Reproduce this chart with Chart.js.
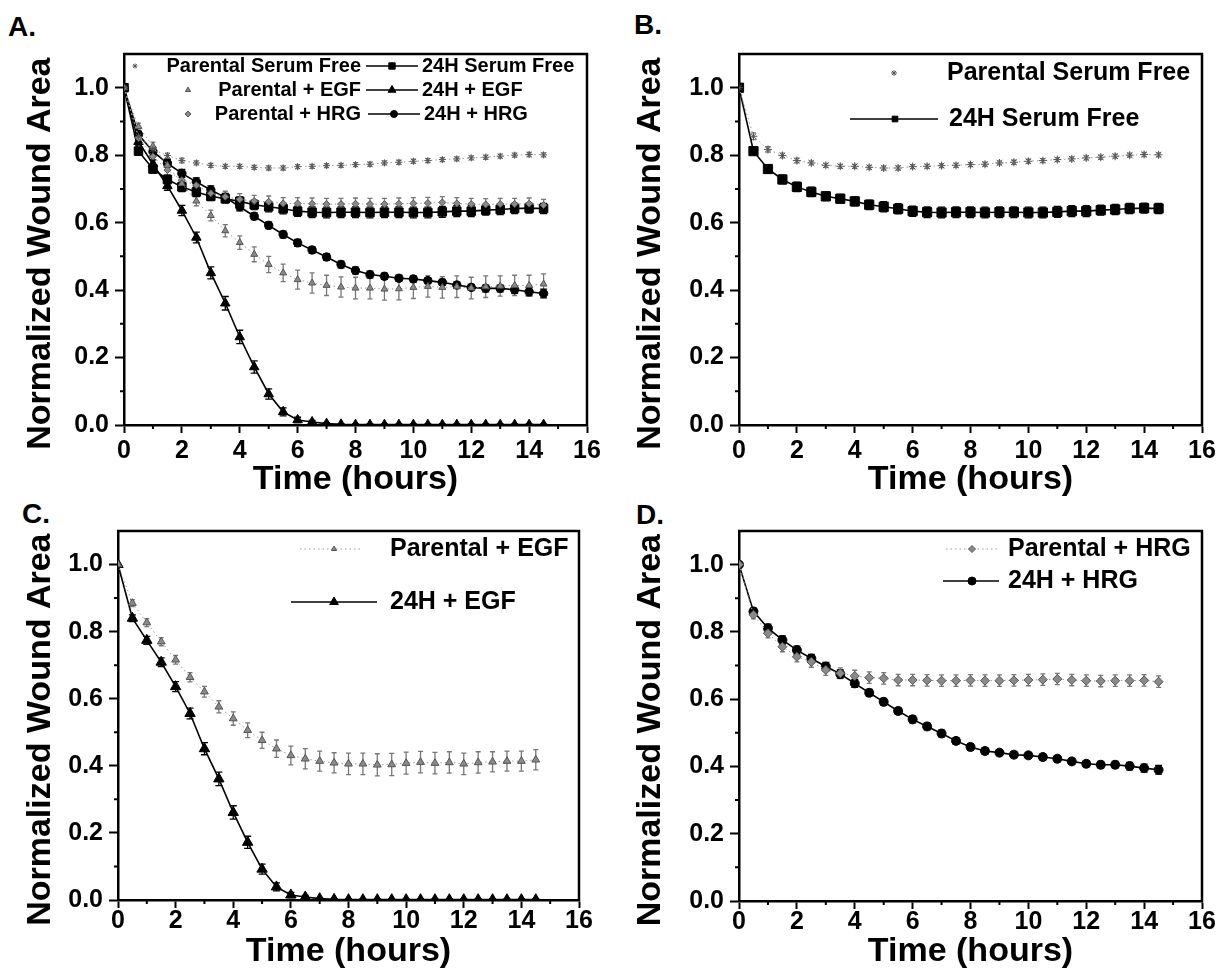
<!DOCTYPE html>
<html><head><meta charset="utf-8">
<script src="https://cdn.jsdelivr.net/npm/chart.js@4.4.0/dist/chart.umd.min.js"></script>
<style>
html,body{margin:0;padding:0;background:#fff;width:1220px;height:976px;overflow:hidden;position:relative;}
canvas{position:absolute;}
.plabel{position:absolute;font:bold 28px "Liberation Sans",Arial,sans-serif;line-height:28px;color:#000;}
</style></head><body>
<div class="plabel" style="left:8px;top:13px">A.</div>
<div class="plabel" style="left:634px;top:11px">B.</div>
<div class="plabel" style="left:22px;top:500px">C.</div>
<div class="plabel" style="left:636px;top:501px">D.</div>
<canvas id="cA" width="610" height="505" style="left:0px;top:0px"></canvas>
<canvas id="cB" width="610" height="505" style="left:610px;top:0px"></canvas>
<canvas id="cC" width="610" height="488" style="left:0px;top:488px"></canvas>
<canvas id="cD" width="610" height="488" style="left:610px;top:488px"></canvas>
<script>
// ---------- data ----------
const times = [0,0.5,1,1.5,2,2.5,3,3.5,4,4.5,5,5.5,6,6.5,7,7.5,8,8.5,9,9.5,10,10.5,11,11.5,12,12.5,13,13.5,14,14.5];
const xTickValues = [0,2,4,6,8,10,12,14,16];
const yTickValues = [0,0.2,0.4,0.6,0.8,1.0];
const xTitle = 'Time (hours)';
const yTitle = 'Normalized Wound Area';

const nameParentalSF = 'Parental Serum Free';
const name24hSF = '24H Serum Free';
const nameParentalEGF = 'Parental + EGF';
const name24hEGF = '24H + EGF';
const nameParentalHRG = 'Parental + HRG';
const name24hHRG = '24H + HRG';

const parentalSF = [1.000,0.856,0.817,0.799,0.784,0.777,0.770,0.767,0.767,0.764,0.762,0.762,0.766,0.767,0.769,0.770,0.772,0.773,0.777,0.779,0.782,0.784,0.787,0.789,0.792,0.794,0.797,0.800,0.802,0.801];
const errParentalSF = [0,0.010,0.008,0.007,0.007,0.006,0.006,0.006,0.006,0.006,0.006,0.006,0.006,0.006,0.006,0.006,0.006,0.006,0.006,0.006,0.006,0.006,0.006,0.006,0.006,0.006,0.006,0.006,0.006,0.006];
const h24SF = [1.000,0.812,0.759,0.728,0.706,0.691,0.678,0.671,0.663,0.653,0.647,0.641,0.634,0.631,0.630,0.631,0.631,0.630,0.631,0.631,0.630,0.630,0.632,0.634,0.634,0.637,0.639,0.642,0.643,0.642];
const errH24SF = [0,0.012,0.012,0.013,0.014,0.014,0.013,0.013,0.013,0.014,0.015,0.015,0.015,0.016,0.016,0.016,0.016,0.016,0.016,0.016,0.016,0.016,0.016,0.016,0.016,0.015,0.015,0.015,0.015,0.015];
const parentalEGF = [1.000,0.885,0.827,0.770,0.716,0.664,0.621,0.576,0.541,0.506,0.476,0.451,0.431,0.421,0.414,0.409,0.406,0.406,0.403,0.404,0.408,0.411,0.408,0.410,0.406,0.410,0.412,0.414,0.414,0.418];
const errParentalEGF = [0,0.010,0.012,0.012,0.013,0.014,0.016,0.018,0.020,0.022,0.024,0.026,0.028,0.030,0.030,0.030,0.032,0.032,0.033,0.033,0.033,0.032,0.032,0.032,0.032,0.032,0.030,0.030,0.030,0.030];
const h24EGF = [1.000,0.840,0.774,0.709,0.636,0.556,0.451,0.361,0.261,0.172,0.092,0.039,0.015,0.009,0.004,0.002,0.001,0.001,0.001,0.001,0.001,0.001,0.001,0.001,0.001,0.001,0.001,0.001,0.001,0.001];
const errH24EGF = [0,0.010,0.012,0.013,0.015,0.016,0.018,0.020,0.020,0.018,0.015,0.012,0.008,0.005,0.003,0.002,0.002,0.002,0.002,0.002,0.002,0.002,0.002,0.002,0.002,0.002,0.002,0.002,0.002,0.002];
const parentalHRG = [1.000,0.851,0.796,0.756,0.726,0.711,0.687,0.677,0.669,0.664,0.662,0.657,0.657,0.656,0.655,0.655,0.656,0.655,0.655,0.656,0.657,0.658,0.660,0.657,0.655,0.654,0.655,0.655,0.656,0.652];
const errParentalHRG = [0,0.012,0.014,0.015,0.015,0.016,0.016,0.016,0.017,0.017,0.017,0.017,0.017,0.017,0.017,0.017,0.017,0.017,0.017,0.017,0.017,0.017,0.017,0.017,0.017,0.017,0.017,0.017,0.017,0.017];
const h24HRG = [1.000,0.861,0.811,0.776,0.746,0.721,0.697,0.675,0.647,0.619,0.592,0.565,0.540,0.519,0.498,0.476,0.458,0.446,0.441,0.435,0.433,0.428,0.423,0.415,0.408,0.405,0.405,0.401,0.395,0.390];
const errH24HRG = [0,0.010,0.012,0.012,0.012,0.012,0.012,0.012,0.012,0.010,0.010,0.010,0.010,0.010,0.010,0.010,0.010,0.010,0.009,0.009,0.009,0.009,0.009,0.009,0.009,0.010,0.010,0.011,0.012,0.013];

// ---------- styles ----------
const FONT = "'Liberation Sans', Arial, Helvetica, sans-serif";
Chart.defaults.font.family = FONT;
Chart.defaults.color = '#000';

function pts(vals){ return times.map((t,i)=>({x:t, y:vals[i]})); }

function parentalDS(label, vals, errs, style, r){
  return {label, data: pts(vals), errors: errs, errorColor:'#777', capHalf:2.5,
    showLine:true, borderColor:'#9a9a9a', borderWidth:1, borderDash:[1.5,3],
    pointStyle: style, pointRadius:r, pointBackgroundColor:'#8a8a8a', pointBorderColor:'#555', pointBorderWidth:1,
    tension:0};
}
function h24DS(label, vals, errs, style, r){
  return {label, data: pts(vals), errors: errs, errorColor:'#000', capHalf:3.5,
    showLine:true, borderColor:'#000', borderWidth:1.6, borderDash:[],
    pointStyle: style, pointRadius:r, pointBackgroundColor:'#000', pointBorderColor:'#000', pointBorderWidth:1,
    tension:0};
}

// ---------- plugins ----------
const errorBars = {
  id:'errorBars',
  beforeDatasetsDraw(chart){
    const ctx = chart.ctx, ys = chart.scales.y;
    const ca = chart.chartArea;
    ctx.save();
    ctx.beginPath(); ctx.rect(ca.left, ca.top, ca.right-ca.left, ca.bottom-ca.top); ctx.clip();
    chart.data.datasets.forEach((ds, di)=>{
      if(!ds.errors) return;
      const meta = chart.getDatasetMeta(di);
      ctx.strokeStyle = ds.errorColor; ctx.lineWidth = 1.3;
      meta.data.forEach((p,i)=>{
        const e = ds.errors[i]; if(!e) return;
        const v = ds.data[i].y;
        const y1 = ys.getPixelForValue(v+e), y2 = ys.getPixelForValue(v-e), c = ds.capHalf;
        ctx.beginPath();
        ctx.moveTo(p.x, y1); ctx.lineTo(p.x, y2);
        ctx.moveTo(p.x-c, y1); ctx.lineTo(p.x+c, y1);
        ctx.moveTo(p.x-c, y2); ctx.lineTo(p.x+c, y2);
        ctx.stroke();
      });
    });
    ctx.restore();
  }
};

const frameAndMinor = {
  id:'frameAndMinor',
  afterDraw(chart){
    const ctx = chart.ctx, xs = chart.scales.x, ys = chart.scales.y;
    const {left,right,top,bottom} = chart.chartArea;
    ctx.save();
    ctx.strokeStyle = '#000'; ctx.lineWidth = 2.5;
    ctx.beginPath(); ctx.moveTo(left-1, top); ctx.lineTo(right, top); ctx.lineTo(right, bottom+1); ctx.stroke();
    ctx.lineWidth = 2;
    ctx.beginPath();
    for(let k=0;k<xTickValues.length-1;k++){
      const px = xs.getPixelForValue((xTickValues[k]+xTickValues[k+1])/2);
      ctx.moveTo(px, bottom); ctx.lineTo(px, bottom+4);
    }
    for(let k=0;k<yTickValues.length-1;k++){
      const py = ys.getPixelForValue((yTickValues[k]+yTickValues[k+1])/2);
      ctx.moveTo(left, py); ctx.lineTo(left-4, py);
    }
    ctx.stroke();
    ctx.restore();
  }
};

const panelLegend = {
  id:'panelLegend',
  afterDatasetsDraw(chart, args, opts){
    const ctx = chart.ctx;
    (opts.items||[]).forEach(it=>{
      const ds = chart.data.datasets[it.ds];
      ctx.save();
      if(it.line){
        ctx.strokeStyle = ds.borderColor; ctx.lineWidth = ds.borderWidth;
        ctx.setLineDash(ds.borderDash||[]);
        ctx.beginPath(); ctx.moveTo(it.line[0], it.y); ctx.lineTo(it.line[1], it.y); ctx.stroke();
        ctx.setLineDash([]);
      }
      ctx.fillStyle = ds.pointBackgroundColor; ctx.strokeStyle = ds.pointBorderColor; ctx.lineWidth = ds.pointBorderWidth;
      Chart.helpers.drawPoint(ctx, {pointStyle: ds.pointStyle, radius: it.r || ds.pointRadius, borderWidth: ds.pointBorderWidth, rotation:0}, it.x, it.y);
      ctx.fillStyle = '#000';
      ctx.font = 'bold ' + opts.size + 'px ' + FONT;
      ctx.textBaseline = 'middle';
      ctx.textAlign = it.align || 'left';
      ctx.fillText(ds.label, it.tx, it.y);
      ctx.restore();
    });
  }
};

function makePanel(id, datasets, area, legend){
  const cv = document.getElementById(id);
  const H = cv.height;
  return new Chart(cv, {
    type:'line',
    data:{datasets},
    plugins:[errorBars, frameAndMinor, panelLegend],
    options:{
      responsive:false, animation:false, devicePixelRatio:1,
      layout:{padding:{left:0, top:area.top, right:cv.width-area.right, bottom:0}},
      plugins:{legend:{display:false}, tooltip:{enabled:false}, panelLegend: legend},
      elements:{line:{tension:0}},
      scales:{
        x:{type:'linear', min:0, max:16,
          afterBuildTicks: s => { s.ticks = xTickValues.map(v=>({value:v})); },
          afterFit: s => { s.height = H - area.bottom; },
          ticks:{font:{size:25, weight:'bold'}, color:'#000', padding:area.xlPad, maxRotation:0, autoSkip:false, callback: v => String(v)},
          grid:{drawOnChartArea:false, drawTicks:true, tickLength:8, tickWidth:2, tickColor:'#000'},
          border:{display:true, color:'#000', width:2.5},
          title:{display:true, text:xTitle, color:'#000', font:{size:34, weight:'bold'}, padding:{top:0, bottom:area.xtPad}}
        },
        y:{type:'linear', min:0, max:1.1,
          afterBuildTicks: s => { s.ticks = yTickValues.map(v=>({value:v})); },
          afterFit: s => { s.width = area.left; },
          ticks:{font:{size:25, weight:'bold'}, color:'#000', padding:6, autoSkip:false, callback: v => Number(v).toFixed(1)},
          grid:{drawOnChartArea:false, drawTicks:true, tickLength:9, tickWidth:2, tickColor:'#000'},
          border:{display:true, color:'#000', width:2.5},
          title:{display:true, text:yTitle + '   ', color:'#000', font:{size:34, weight:'bold'}, padding:{top:area.ytPad, bottom:0}}
        }
      }
    }
  });
}

// Panel A: all six series
makePanel('cA', [
  parentalDS(nameParentalSF, parentalSF, errParentalSF, 'star', 3.5),
  parentalDS(nameParentalEGF, parentalEGF, errParentalEGF, 'triangle', 4),
  parentalDS(nameParentalHRG, parentalHRG, errParentalHRG, 'rectRot', 3.5),
  h24DS(name24hSF, h24SF, errH24SF, 'rect', 6),
  h24DS(name24hEGF, h24EGF, errH24EGF, 'triangle', 5.5),
  h24DS(name24hHRG, h24HRG, errH24HRG, 'circle', 4.2)
], {left:124, right:587, top:54, bottom:425, xtPad:5, ytPad:20, xlPad:3},
{size:20, items:[
  {ds:0, x:135, y:66, tx:361, align:'right', r:2.5},
  {ds:3, x:392, y:66, tx:422, line:[366,418], r:4.5},
  {ds:1, x:188, y:90, tx:361, align:'right', r:3},
  {ds:4, x:392, y:90, tx:422, line:[366,418], r:4.5},
  {ds:2, x:188, y:114, tx:361, align:'right', r:3},
  {ds:5, x:394, y:114, tx:424, line:[368,420], r:3.5}
]});

// Panel B: serum free
makePanel('cB', [
  parentalDS(nameParentalSF, parentalSF, errParentalSF, 'star', 4),
  h24DS(name24hSF, h24SF, errH24SF, 'rect', 6.5)
], {left:129, right:592, top:54, bottom:425, xtPad:5, ytPad:20, xlPad:3},
{size:25, items:[
  {ds:0, x:284, y:73, tx:337, r:3},
  {ds:1, x:285, y:119, tx:339, line:[240,328], r:4}
]});

// Panel C: EGF
makePanel('cC', [
  parentalDS(nameParentalEGF, parentalEGF, errParentalEGF, 'triangle', 4.5),
  h24DS(name24hEGF, h24EGF, errH24EGF, 'triangle', 6)
], {left:118, right:579, top:43, bottom:412, xtPad:4, ytPad:20, xlPad:-2},
{size:25, items:[
  {ds:0, x:334, y:61, tx:390, line:[300,360], r:3},
  {ds:1, x:334, y:114, tx:390, line:[291,377], r:5}
]});

// Panel D: HRG
makePanel('cD', [
  parentalDS(nameParentalHRG, parentalHRG, errParentalHRG, 'rectRot', 4.5),
  h24DS(name24hHRG, h24HRG, errH24HRG, 'circle', 4.5)
], {left:129, right:592, top:43, bottom:413, xtPad:4, ytPad:20, xlPad:-2},
{size:25, items:[
  {ds:0, x:362, y:61, tx:398, line:[336,387], r:3.5},
  {ds:1, x:362, y:93, tx:398, line:[333,389], r:4}
]});
</script>
</body></html>
